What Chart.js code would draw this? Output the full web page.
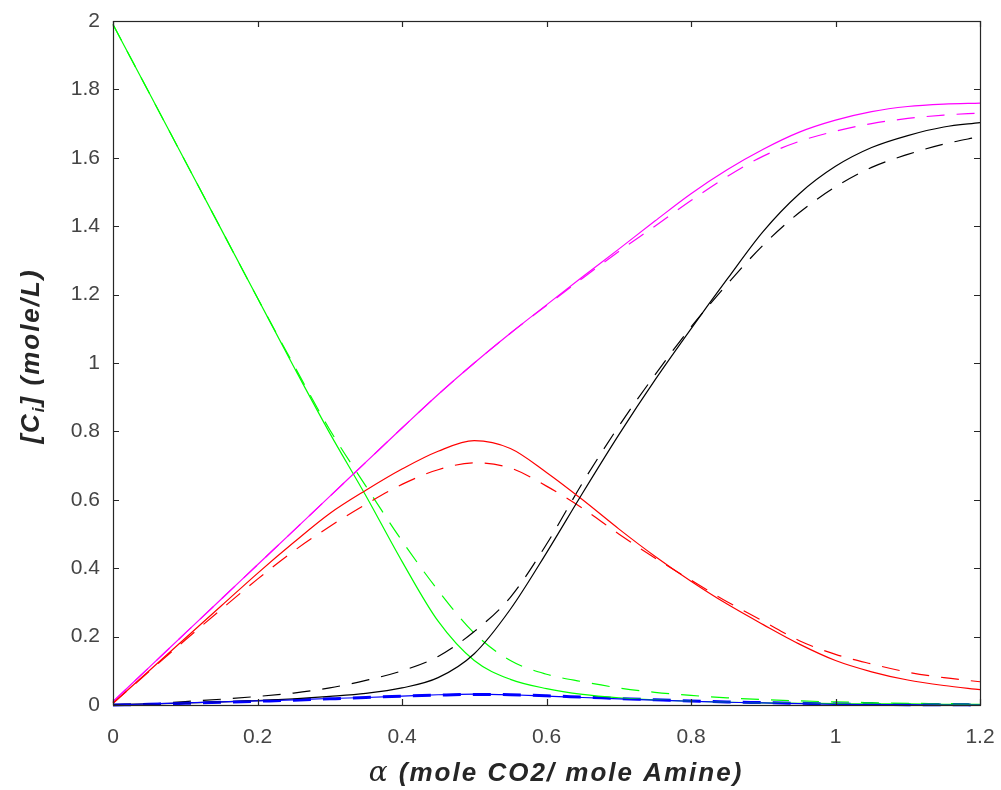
<!DOCTYPE html>
<html>
<head>
<meta charset="utf-8">
<script src="https://cdn.jsdelivr.net/npm/chart.js@4.4.1/dist/chart.umd.min.js"></script>
<style>
  html, body { margin: 0; padding: 0; background: #fff; }
  canvas { display: block; }
</style>
</head>
<body>
<canvas id="chart" width="1001" height="790"></canvas>
<script>
// loading alpha (mole CO2 / mole amine)
const alpha = [0, 0.05, 0.1, 0.15, 0.2, 0.25, 0.3, 0.35, 0.4, 0.45, 0.5, 0.55, 0.6,
  0.65, 0.7, 0.75, 0.8, 0.85, 0.9, 0.95, 1.0, 1.05, 1.1, 1.15, 1.2];

// solid = model, dashed = comparison run
const magentaSolid = [0.01, 0.11, 0.21, 0.31, 0.41, 0.51, 0.61, 0.71, 0.81, 0.908, 1.0, 1.087, 1.17,
  1.252, 1.333, 1.415, 1.495, 1.565, 1.625, 1.675, 1.71, 1.735, 1.75, 1.757, 1.76];
const magentaDash = [0.01, 0.11, 0.21, 0.31, 0.41, 0.51, 0.61, 0.71, 0.81, 0.908, 1.0, 1.087, 1.168,
  1.248, 1.326, 1.4, 1.475, 1.545, 1.605, 1.648, 1.678, 1.7, 1.715, 1.725, 1.731];

const redSolid = [0.005, 0.1, 0.195, 0.29, 0.385, 0.475, 0.56, 0.628, 0.69, 0.742, 0.773, 0.75, 0.68,
  0.6, 0.515, 0.435, 0.362, 0.295, 0.235, 0.178, 0.13, 0.097, 0.073, 0.057, 0.045];
const redDash = [0.005, 0.098, 0.19, 0.28, 0.368, 0.45, 0.522, 0.587, 0.645, 0.688, 0.708, 0.693, 0.64,
  0.575, 0.5, 0.43, 0.365, 0.302, 0.245, 0.188, 0.148, 0.12, 0.096, 0.08, 0.068];

const greenSolid = [1.99, 1.79, 1.59, 1.39, 1.19, 0.99, 0.795, 0.612, 0.42, 0.245, 0.13, 0.075, 0.048,
  0.031, 0.021, 0.015, 0.011, 0.008, 0.006, 0.005, 0.004, 0.003, 0.003, 0.002, 0.002];
const greenDash = [1.99, 1.79, 1.59, 1.39, 1.19, 0.995, 0.805, 0.64, 0.48, 0.335, 0.21, 0.13, 0.09,
  0.068, 0.05, 0.037, 0.028, 0.021, 0.016, 0.012, 0.009, 0.007, 0.005, 0.004, 0.003];

const blackSolid = [0.001, 0.003, 0.006, 0.009, 0.013, 0.018, 0.025, 0.034, 0.05, 0.08, 0.15, 0.28, 0.445,
  0.62, 0.79, 0.95, 1.1, 1.245, 1.385, 1.495, 1.575, 1.63, 1.665, 1.69, 1.703];
const blackDash = [0, 0.003, 0.01, 0.017, 0.025, 0.035, 0.05, 0.072, 0.1, 0.142, 0.215, 0.315, 0.47,
  0.65, 0.815, 0.965, 1.105, 1.23, 1.345, 1.44, 1.515, 1.572, 1.61, 1.64, 1.662];

const blueSolid = [0, 0.003, 0.006, 0.009, 0.012, 0.015, 0.019, 0.022, 0.026, 0.03, 0.032, 0.03, 0.026,
  0.022, 0.018, 0.014, 0.011, 0.008, 0.006, 0.004, 0.002, 0.001, 0.001, 0, 0];
const blueDash = [0, 0.002, 0.005, 0.008, 0.011, 0.014, 0.018, 0.022, 0.026, 0.029, 0.031, 0.03, 0.027,
  0.023, 0.019, 0.015, 0.012, 0.009, 0.007, 0.005, 0.003, 0.002, 0.001, 0.001, 0];

const xTicks = [0, 0.2, 0.4, 0.6, 0.8, 1, 1.2];
const xTickLabels = ['0', '0.2', '0.4', '0.6', '0.8', '1', '1.2'];
const yTicks = [0, 0.2, 0.4, 0.6, 0.8, 1, 1.2, 1.4, 1.6, 1.8, 2];
const yTickLabels = ['0', '0.2', '0.4', '0.6', '0.8', '1', '1.2', '1.4', '1.6', '1.8', '2'];

const axisColor = '#262626';
const labelColor = '#444444';
const tickFont = { family: 'Liberation Sans, Arial, sans-serif', size: 21 };

function series(values, color, dashed, width) {
  return {
    data: alpha.map((a, i) => ({ x: a, y: values[i] })),
    borderColor: color,
    borderWidth: width || 1.2,
    borderDash: dashed ? [18, 12] : [],
    pointRadius: 0,
    fill: false,
    cubicInterpolationMode: 'monotone',
    clip: 4,
  };
}

// fixed scale sizes, no extra room for overhanging labels
function fixSize(s, size) {
  if (s.isHorizontal()) s.height = size; else s.width = size;
  s.paddingLeft = s.paddingRight = s.paddingTop = s.paddingBottom = 0;
}

// box, inward ticks on all four sides, and the two axis titles
const boxAxes = {
  id: 'boxAxes',
  afterDraw(chart) {
    const { ctx, chartArea: a, scales: { x, y } } = chart;
    const len = 6;
    ctx.save();
    ctx.strokeStyle = axisColor;
    ctx.lineWidth = 1.2;
    ctx.beginPath();
    xTicks.forEach(v => {
      const px = Math.round(x.getPixelForValue(v)) + 0.5;
      ctx.moveTo(px, a.bottom); ctx.lineTo(px, a.bottom - len);
      ctx.moveTo(px, a.top); ctx.lineTo(px, a.top + len);
    });
    yTicks.forEach(v => {
      const py = Math.round(y.getPixelForValue(v)) + 0.5;
      ctx.moveTo(a.left, py); ctx.lineTo(a.left + len, py);
      ctx.moveTo(a.right, py); ctx.lineTo(a.right - len, py);
    });
    ctx.stroke();
    ctx.strokeRect(a.left + 0.5, a.top + 0.5, a.right - a.left, a.bottom - a.top);

    ctx.fillStyle = axisColor;
    if ('letterSpacing' in ctx) ctx.letterSpacing = '2px';
    ctx.textBaseline = 'alphabetic';
    const bold = 'italic bold 26px "Liberation Sans", Arial, sans-serif';

    // x title
    const greek = 'italic 28px "DejaVu Serif", "Liberation Serif", serif';
    const rest = ' (mole CO2/ mole Amine)';
    ctx.font = greek;
    const wA = ctx.measureText('α').width;
    ctx.font = bold;
    const wR = ctx.measureText(rest).width;
    let tx = 556 - (wA + wR) / 2;
    ctx.textAlign = 'left';
    ctx.font = greek;
    ctx.fillText('α', tx, 781);
    ctx.font = bold;
    ctx.fillText(rest, tx + wA, 781);

    // y title with subscript
    ctx.translate(39, 356);
    ctx.rotate(-Math.PI / 2);
    const sub = 'italic bold 17px "Liberation Sans", Arial, sans-serif';
    ctx.font = bold;
    const w1 = ctx.measureText('[C').width;
    const w3 = ctx.measureText('] (mole/L)').width;
    ctx.font = sub;
    const w2 = ctx.measureText('i').width;
    let sx = -(w1 + w2 + w3) / 2;
    ctx.font = bold;
    ctx.fillText('[C', sx, 0);
    ctx.font = sub;
    ctx.fillText('i', sx + w1, 5);
    ctx.font = bold;
    ctx.fillText('] (mole/L)', sx + w1 + w2, 0);
    ctx.restore();
  }
};

new Chart(document.getElementById('chart'), {
  type: 'line',
  data: {
    datasets: [
      series(blueSolid, '#0000ff', false),
      series(blackSolid, '#000000', false),
      series(redSolid, '#ff0000', false),
      series(magentaSolid, '#ff00ff', false),
      series(greenSolid, '#00ff00', false),
      series(blueDash, '#0000ff', true, 3),
      series(blackDash, '#000000', true),
      series(redDash, '#ff0000', true),
      series(magentaDash, '#ff00ff', true),
      series(greenDash, '#00ff00', true),
    ],
  },
  options: {
    responsive: false,
    animation: false,
    events: [],
    layout: { padding: { top: 21, right: 21, left: 0, bottom: 0 } },
    plugins: { legend: { display: false }, tooltip: { enabled: false } },
    scales: {
      x: {
        type: 'linear',
        min: 0,
        max: 1.2,
        afterBuildTicks: s => { s.ticks = xTicks.map(v => ({ value: v })); },
        afterFit: s => fixSize(s, 85),
        grid: { display: false, drawTicks: false },
        border: { display: false },
        ticks: {
          color: labelColor,
          font: tickFont,
          padding: 20,
          maxRotation: 0,
          autoSkip: false,
          callback: (v, i) => xTickLabels[i],
        },
      },
      y: {
        type: 'linear',
        min: 0,
        max: 2,
        afterBuildTicks: s => { s.ticks = yTicks.map(v => ({ value: v })); },
        afterFit: s => fixSize(s, 113),
        grid: { display: false, drawTicks: false },
        border: { display: false },
        ticks: {
          color: labelColor,
          font: tickFont,
          padding: 13,
          autoSkip: false,
          callback: (v, i) => yTickLabels[i],
        },
      },
    },
  },
  plugins: [boxAxes],
});
</script>
</body>
</html>
